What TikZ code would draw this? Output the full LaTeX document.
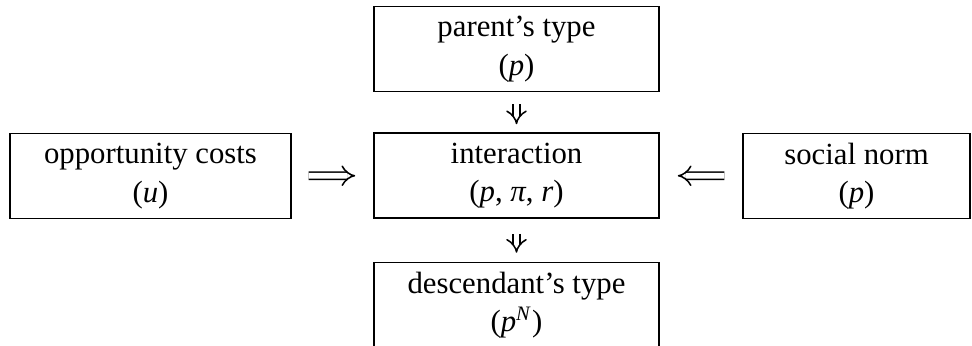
\documentclass[tikz,border=0pt]{standalone}
\usepackage{fontspec}
\setmainfont{Liberation Serif}
\usetikzlibrary{arrows.meta}

\tikzset{
  factor/.style={draw, line width=0.6pt, minimum height=33.2pt, inner sep=0pt,
    align=center, font=\fontsize{12}{15}\selectfont},
  effect/.style={double, double distance=2.2pt, line width=0.6pt, -{Implies[scale=1.6]}}
}

\begin{document}
\begin{tikzpicture}[x=0.39pt, y=-0.39pt]
        \useasboundingbox (0,0) rectangle (972,345);

        \node[factor, minimum width=111.2pt] at (516.5, 49)(parent){parent’s type\\(\textit{p})};
        \node[factor, minimum width=111.2pt] at (516.5, 175.5)(inter){interaction\\(\textit{p}, \textit{π}, \textit{r})};
        \node[factor, minimum width=109.6pt] at (150.5, 176)(cost){opportunity costs\\(\textit{u})};
        \node[factor, minimum width=88.5pt] at (856.5, 176)(norm){social norm\\(\textit{p})};
        \node[factor, minimum width=111.2pt] at (516.5, 305)(desc){descendant’s type\\(\textit{p}\textsuperscript{\textit{N}})};

        \draw[effect, shorten <=4.7pt, shorten >=3.1pt] (parent) -- (inter);
        \draw[effect, shorten <=6.6pt, shorten >=7pt] (cost) -- (inter);
        \draw[effect, shorten <=7pt, shorten >=7pt] (norm) -- (inter);
        \draw[effect, shorten <=5.9pt, shorten >=3.5pt] (inter) -- (desc);
    \end{tikzpicture}
\end{document}
